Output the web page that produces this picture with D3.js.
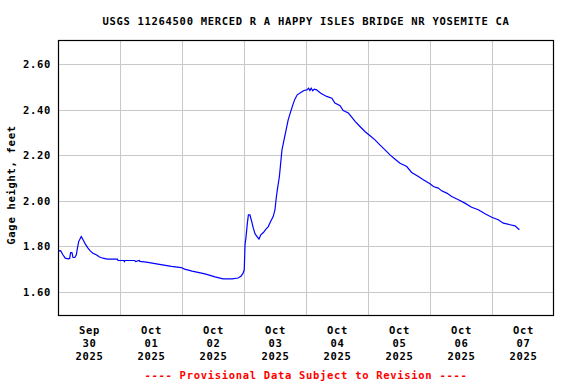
<!DOCTYPE html>
<html>
<head>
<meta charset="utf-8">
<script src="https://cdn.jsdelivr.net/npm/d3@7"></script>
<style>
  html, body { margin: 0; padding: 0; background: #fff; }
  svg { display: block; }
  text { font-family: "DejaVu Sans Mono", "Liberation Mono", monospace; font-weight: bold; }
</style>
</head>
<body>
<svg id="chart" width="576" height="384"></svg>
<script>
// ---------- DATA ----------
const chartTitle = "USGS 11264500 MERCED R A HAPPY ISLES BRIDGE NR YOSEMITE CA";
const yAxisLabel = "Gage height, feet";
const footnote = "---- Provisional Data Subject to Revision ----";

// hours since 2025-09-30 00:00 (local)
const hoursSinceStart = [
  0, 1.0, 1.9, 2.8, 3.9, 4.5, 4.9, 5.4, 5.8, 6.5, 7.1, 7.5, 8.0, 8.8, 9.0, 9.7,
  10.6, 11.6, 12.5, 13.5, 14.8, 16.1, 17.4, 19.1, 23.0, 23.2, 25.5, 25.7, 26.0,
  29.7, 30.0, 31.5, 31.7, 34.2, 38.7, 43.9, 47.7, 49.0, 51.9, 56.9, 60.8, 63.9,
  67.4, 69.7, 70.8, 71.6, 72.1, 72.4, 72.8, 73.3, 73.7, 74.3, 75.0, 75.6, 76.3,
  77.2, 77.8, 78.5, 79.5, 80.5, 81.4, 82.3, 83.3, 84.0, 84.4, 84.9, 85.7, 86.2,
  86.7, 87.5, 88.3, 89.1, 90.1, 90.9, 91.7, 92.6, 94.0, 95.2, 96.3, 97.0, 97.5,
  98.0, 98.6, 99.2, 100.1, 101.7, 104.0, 106.0, 107.2, 109.2, 110.4, 112.4,
  113.7, 115.0, 116.9, 118.8, 120.8, 122.7, 124.6, 126.6, 128.5, 130.5, 132.4,
  135.0, 136.9, 139.5, 141.4, 144.0, 145.3, 147.2, 148.5, 150.5, 152.4, 155.0,
  157.5, 160.1, 162.7, 165.3, 167.9, 170.4, 172.4, 175.0, 176.9, 178.6
];
const gageHeight = [
  1.779, 1.780, 1.762, 1.747, 1.744, 1.746, 1.772, 1.772, 1.750, 1.750, 1.762, 1.790, 1.820, 1.838, 1.842, 1.828,
  1.809, 1.791, 1.779, 1.769, 1.762, 1.752, 1.747, 1.743, 1.743, 1.737, 1.737, 1.732, 1.737,
  1.737, 1.732, 1.737, 1.733, 1.730, 1.721, 1.711, 1.706, 1.699, 1.690, 1.678, 1.665, 1.656,
  1.656, 1.660, 1.668, 1.680, 1.696, 1.806, 1.842, 1.901, 1.937, 1.937, 1.908, 1.879, 1.854,
  1.840, 1.831, 1.850, 1.860, 1.875, 1.886, 1.908, 1.930, 1.960, 2.004, 2.047, 2.106, 2.165,
  2.223, 2.267, 2.311, 2.355, 2.392, 2.421, 2.446, 2.465, 2.475, 2.484, 2.487, 2.494, 2.484,
  2.494, 2.483, 2.490, 2.487, 2.472, 2.458, 2.450, 2.429, 2.417, 2.396, 2.385,
  2.367, 2.348, 2.326, 2.304, 2.285, 2.267, 2.245, 2.223, 2.201, 2.182, 2.164,
  2.150, 2.124, 2.106, 2.092, 2.074, 2.062, 2.055, 2.043, 2.033, 2.018, 2.004,
  1.989, 1.971, 1.960, 1.942, 1.927, 1.916, 1.901, 1.894, 1.889, 1.872
];

const yTickValues = [1.60, 1.80, 2.00, 2.20, 2.40, 2.60];
const xTickMonths = ["Sep", "Oct", "Oct", "Oct", "Oct", "Oct", "Oct", "Oct"];
const xTickDays   = ["30", "01", "02", "03", "04", "05", "06", "07"];
const xTickYears  = ["2025", "2025", "2025", "2025", "2025", "2025", "2025", "2025"];

// ---------- LAYOUT ----------
const start = new Date(2025, 8, 30, 0, 0);
const end = new Date(2025, 9, 8, 0, 0);
const hourMs = 3600 * 1000;
const data = hoursSinceStart.map((h, i) => ({ t: new Date(start.getTime() + h * hourMs), v: gageHeight[i] }));

const margin = { left: 58, right: 22, top: 40, bottom: 68 };
const W = 576, H = 384;
const plotW = W - margin.left - margin.right; // 496
const plotH = H - margin.top - margin.bottom; // 276

const svg = d3.select("#chart");
const g = svg.append("g").attr("transform", `translate(${margin.left},${margin.top})`);

const x = d3.scaleTime().domain([start, end]).range([0, plotW]);
const y = d3.scaleLinear().domain([1.493, 2.706]).range([plotH, 0]);

// gridlines
const midnights = d3.timeDay.range(d3.timeDay.offset(start, 1), end);
g.append("g").selectAll("line").data(midnights).join("line")
  .attr("x1", d => Math.round(x(d)) + 0.5).attr("x2", d => Math.round(x(d)) + 0.5)
  .attr("y1", 0).attr("y2", plotH)
  .attr("stroke", "#c8c8c8").attr("stroke-width", 1);
g.append("g").selectAll("line").data(yTickValues).join("line")
  .attr("x1", 0).attr("x2", plotW)
  .attr("y1", d => Math.round(y(d)) + 0.5).attr("y2", d => Math.round(y(d)) + 0.5)
  .attr("stroke", "#c8c8c8").attr("stroke-width", 1);

// line
const line = d3.line().x(d => x(d.t)).y(d => y(d.v));
g.append("path").datum(data)
  .attr("d", line)
  .attr("fill", "none")
  .attr("stroke", "#0000ff")
  .attr("stroke-width", 1.2)
  .attr("stroke-linejoin", "miter");

// frame
g.append("rect").attr("x", 0.5).attr("y", 0.5).attr("width", plotW - 1).attr("height", plotH - 1)
  .attr("fill", "none").attr("stroke", "#000").attr("stroke-width", 1.2);

// y axis
const yAxis = d3.axisLeft(y).tickValues(yTickValues).tickFormat(d3.format(".2f")).tickSize(0).tickPadding(7);
const yg = g.append("g").call(yAxis);
yg.select(".domain").remove();
yg.selectAll("text")
  .attr("font-family", '"DejaVu Sans Mono", monospace').attr("font-weight", "bold")
  .attr("font-size", 10.5).attr("letter-spacing", 0.7).attr("fill", "#000")
  .attr("dy", "0.35em");

// x axis: labels at noon of each day
const noons = xTickDays.map((_, i) => new Date(start.getTime() + (i * 24 + 12) * hourMs));
const xAxis = d3.axisBottom(x).tickValues(noons).tickSize(0).tickFormat("");
const xg = g.append("g").attr("transform", `translate(0,${plotH})`).call(xAxis);
xg.select(".domain").remove();
xg.selectAll(".tick").each(function(d, i) {
  const t = d3.select(this).append("text")
    .attr("text-anchor", "middle").attr("fill", "#000")
    .attr("font-family", '"DejaVu Sans Mono", monospace').attr("font-weight", "bold")
    .attr("font-size", 10.5).attr("letter-spacing", 0.7);
  t.append("tspan").attr("x", 0).attr("y", 18).text(xTickMonths[i]);
  t.append("tspan").attr("x", 0).attr("y", 31).text(xTickDays[i]);
  t.append("tspan").attr("x", 0).attr("y", 44).text(xTickYears[i]);
});

// title
svg.append("text").attr("x", margin.left + plotW / 2).attr("y", 25)
  .attr("text-anchor", "middle").attr("font-size", 10.5).attr("letter-spacing", 0.7)
  .attr("fill", "#000").text(chartTitle);

// y label
svg.append("text").attr("transform", "translate(15,185) rotate(-90)")
  .attr("text-anchor", "middle").attr("font-size", 10.5).attr("letter-spacing", 0.7)
  .attr("fill", "#000").text(yAxisLabel);

// footnote
svg.append("text").attr("x", margin.left + plotW / 2).attr("y", 379)
  .attr("text-anchor", "middle").attr("font-size", 10.5).attr("letter-spacing", 0.7)
  .attr("fill", "#ff0000").text(footnote);
</script>
</body>
</html>
